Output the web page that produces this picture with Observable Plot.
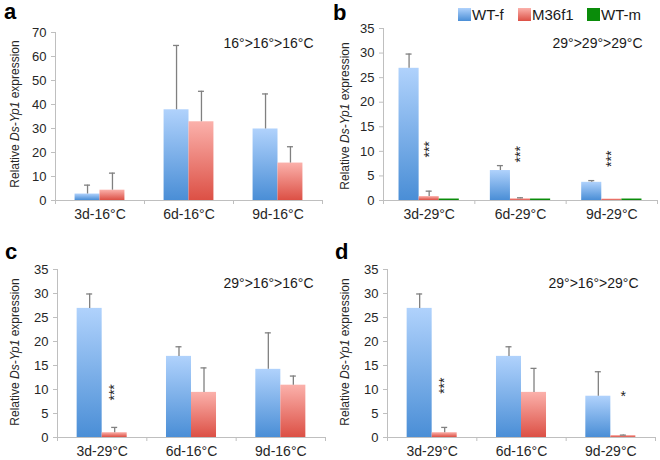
<!DOCTYPE html>
<html>
<head>
<meta charset="utf-8">
<script src="https://cdn.jsdelivr.net/npm/d3@7"></script>
<script src="https://cdn.jsdelivr.net/npm/@observablehq/plot@0.6"></script>
<style>
  body { margin: 0; background: #fff; font-family: "Liberation Sans", Arial, sans-serif; }
  #wrap { position: relative; width: 660px; height: 460px; overflow: hidden; background: #fff; }
  .panel { position: absolute; width: 330px; height: 230px; }
  .plabel { position: absolute; font-weight: bold; font-size: 22px; line-height: 22px; color: #000; }
  .ylab { position: absolute; font-size: 12px; line-height: 14px; white-space: nowrap; color: #262626;
          transform: translate(-50%, -50%) rotate(-90deg); }
  .leg { position: absolute; font-size: 15px; line-height: 15px; color: #1a1a1a; white-space: nowrap; }
  .sw { position: absolute; width: 13px; height: 13px; }
</style>
</head>
<body>
<svg width="0" height="0" style="position:absolute">
  <defs>
    <linearGradient id="gBlue" x1="0" y1="0" x2="0" y2="1">
      <stop offset="0" stop-color="#b0d2fc"/>
      <stop offset="1" stop-color="#4a8ed6"/>
    </linearGradient>
    <linearGradient id="gRed" x1="0" y1="0" x2="0" y2="1">
      <stop offset="0" stop-color="#fbb1ab"/>
      <stop offset="1" stop-color="#dc5045"/>
    </linearGradient>
  </defs>
</svg>
<div id="wrap"></div>
<script>
// ---------- data ----------
const seriesNames = ["WT-f", "M36f1", "WT-m"];

// panel a : 16°>16°>16°C
const catsA = ["3d-16°C", "6d-16°C", "9d-16°C"];
const wtfA = [2.7, 37.8, 29.8];
const wtfErrA = [3.7, 26.8, 14.6];
const m36A = [4.3, 32.8, 15.6];
const m36ErrA = [7.1, 12.7, 6.8];
const noteA = "16°>16°>16°C";

// panel b : 29°>29°>29°C
const catsB = ["3d-29°C", "6d-29°C", "9d-29°C"];
const wtfB = [26.9, 6.1, 3.7];
const wtfErrB = [2.9, 1.0, 0.35];
const m36B = [0.8, 0.35, 0.3];
const m36ErrB = [1.1, 0.2, 0.0];
const wtmB = [0.3, 0.3, 0.3];
const wtmErrB = [0, 0, 0];
const starCatsB = ["3d-29°C", "6d-29°C", "9d-29°C"];
const starYB = [10.4, 9.4, 8.5];
const starLabelB = ["***", "***", "***"];
const noteB = "29°>29°>29°C";

// panel c : 29°>16°>16°C
const catsC = ["3d-29°C", "6d-16°C", "9d-16°C"];
const wtfC = [26.9, 16.9, 14.2];
const wtfErrC = [3.0, 2.0, 7.6];
const m36C = [1.0, 9.4, 10.9];
const m36ErrC = [1.1, 5.1, 1.9];
const starCatsC = ["3d-29°C"];
const starYC = [9.4];
const starLabelC = ["***"];
const noteC = "29°>16°>16°C";

// panel d : 29°>16°>29°C
const catsD = ["3d-29°C", "6d-16°C", "9d-29°C"];
const wtfD = [26.9, 16.9, 8.6];
const wtfErrD = [3.0, 2.0, 5.1];
const m36D = [1.0, 9.4, 0.4];
const m36ErrD = [1.1, 5.0, 0.1];
const starCatsD = ["3d-29°C", "9d-29°C"];
const starYD = [10.8, 8.6];
const starLabelD = ["***", "*"];
const noteD = "29°>16°>29°C";

// ---------- styling ----------
const barFills = ["url(#gBlue)", "url(#gRed)", "#0a8c0a"];
const axisColor = "#bfbfbf";
const errColor = "#808080";
const textColor = "#262626";
const fontFamily = "'Liberation Sans', Arial, sans-serif";

const panels = [
  {label: "a", left: 0, top: 0, cats: catsA, vals: [wtfA, m36A], errs: [wtfErrA, m36ErrA],
   starCats: [], starY: [], starLabel: [], note: noteA, yMax: 70, yStep: 10,
   m: [32, 8, 30, 55], noteDx: -9, noteDy: 11, barFrac: 0.28,
   labelPos: [4, 1], ylabPos: [15, 114]},
  {label: "b", left: 330, top: 0, cats: catsB, vals: [wtfB, m36B, wtmB], errs: [wtfErrB, m36ErrB, wtmErrB],
   starCats: starCatsB, starY: starYB, starLabel: starLabelB, note: noteB, yMax: 35, yStep: 5,
   m: [28, 3, 30, 53], noteDx: -15, noteDy: 15, barFrac: 0.22,
   labelPos: [333, 2], ylabPos: [345, 116]},
  {label: "c", left: 0, top: 230, cats: catsC, vals: [wtfC, m36C], errs: [wtfErrC, m36ErrC],
   starCats: starCatsC, starY: starYC, starLabel: starLabelC, note: noteC, yMax: 35, yStep: 5,
   m: [39, 5, 23, 57], noteDx: -12, noteDy: 14, barFrac: 0.28,
   labelPos: [5, 241], ylabPos: [15, 352]},
  {label: "d", left: 330, top: 230, cats: catsD, vals: [wtfD, m36D], errs: [wtfErrD, m36ErrD],
   starCats: starCatsD, starY: starYD, starLabel: starLabelD, note: noteD, yMax: 35, yStep: 5,
   m: [39, 5, 23, 57], noteDx: -17, noteDy: 14, barFrac: 0.28,
   labelPos: [335, 241], ylabPos: [345, 352]}
];

const wrap = document.getElementById("wrap");

function drawPanel(p) {
  const W = 330, H = 230;
  const [mT, mR, mB, mL] = p.m;
  const n = p.vals.length;
  const B = (W - mL - mR) / p.cats.length;
  const w = B * p.barFrac;
  const off = i => -n * w / 2 + (i + 0.5) * w;
  const tickU = 4 * p.yMax / (H - mT - mB);
  const rows = p.cats.flatMap((c, j) => p.vals.map((vs, i) => ({cat: c, i, v: vs[j], e: p.errs[i][j]})));
  const stars = p.starCats.map((c, k) => ({cat: c, y: p.starY[k], label: p.starLabel[k]}));

  const marks = [];
  // axis lines (behind bars)
  marks.push(Plot.ruleY([0], {stroke: axisColor}));
  marks.push(Plot.ruleX([p.cats[0]], {dx: -B / 2, stroke: axisColor}));
  marks.push(Plot.ruleX(p.cats, {dx: -B / 2, y1: 0, y2: -tickU, stroke: axisColor}));
  marks.push(Plot.ruleX([p.cats[p.cats.length - 1]], {dx: B / 2, y1: 0, y2: -tickU, stroke: axisColor}));
  for (let i = 0; i < n; i++) {
    const R = rows.filter(r => r.i === i);
    const inL = B / 2 + off(i) - w / 2;
    marks.push(Plot.barY(R, {x: "cat", y1: 0, y2: "v", fill: barFills[i], insetLeft: inL, insetRight: B - inL - w}));
    const E = R.filter(r => r.e > 0);
    marks.push(Plot.ruleX(E, {x: "cat", y1: "v", y2: r => r.v + r.e, dx: off(i), stroke: errColor, strokeWidth: 1.3}));
    marks.push(Plot.tickY(E, {x: "cat", y: r => r.v + r.e, insetLeft: B / 2 + off(i) - 3, insetRight: B / 2 - off(i) - 3,
                              stroke: errColor, strokeWidth: 1.3}));
  }
  marks.push(Plot.axisY({ticks: d3.range(0, p.yMax + 0.001, p.yStep), tickSize: 4, tickPadding: 5, fontSize: 13,
                         color: textColor, stroke: axisColor, label: null}));
  marks.push(Plot.axisX({tickSize: 0, tickPadding: 9, fontSize: 14, color: textColor, label: null}));
  marks.push(Plot.text([p.note], {text: d => d, frameAnchor: "top-right", textAnchor: "end", lineAnchor: "middle",
                                  dx: p.noteDx, dy: p.noteDy, fontSize: 14, fill: "#1a1a1a"}));
  if (stars.length) {
    marks.push(Plot.text(stars, {x: "cat", y: "y", text: "label", dx: off(1), rotate: d => d.label.length > 1 ? -90 : 0,
                                 fontSize: 14, fill: "#222"}));
  }

  const svg = Plot.plot({
    width: W, height: H,
    marginTop: mT, marginRight: mR, marginBottom: mB, marginLeft: mL,
    x: {domain: p.cats, padding: 0, round: false},
    y: {domain: [0, p.yMax]},
    style: {fontFamily, background: "transparent", overflow: "visible"},
    marks
  });
  const div = document.createElement("div");
  div.className = "panel";
  div.style.left = p.left + "px";
  div.style.top = p.top + "px";
  div.appendChild(svg);
  wrap.appendChild(div);

  const lab = document.createElement("div");
  lab.className = "plabel";
  lab.textContent = p.label;
  lab.style.left = p.labelPos[0] + "px";
  lab.style.top = p.labelPos[1] + "px";
  wrap.appendChild(lab);

  const yl = document.createElement("div");
  yl.className = "ylab";
  yl.innerHTML = "Relative <i>Ds-Yp1</i> expression";
  yl.style.left = p.ylabPos[0] + "px";
  yl.style.top = p.ylabPos[1] + "px";
  wrap.appendChild(yl);
}

panels.forEach(drawPanel);

// legend
const legendFills = ["linear-gradient(#b0d2fc, #4a8ed6)", "linear-gradient(#fbb1ab, #dc5045)", "#0a8c0a"];
const legendX = [458, 518, 587];
seriesNames.forEach((s, i) => {
  const sw = document.createElement("div");
  sw.className = "sw";
  sw.style.left = legendX[i] + "px";
  sw.style.top = "8px";
  sw.style.background = legendFills[i];
  wrap.appendChild(sw);
  const t = document.createElement("div");
  t.className = "leg";
  t.textContent = s;
  t.style.left = (legendX[i] + 14) + "px";
  t.style.top = "7px";
  wrap.appendChild(t);
});
</script>
</body>
</html>
